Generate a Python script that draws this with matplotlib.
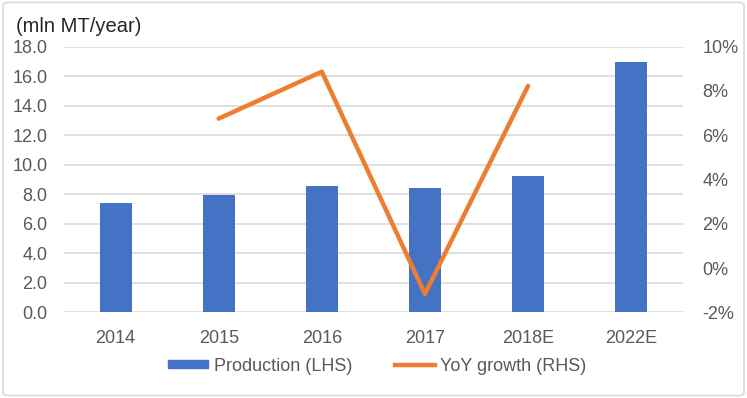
import matplotlib.pyplot as plt
from matplotlib.patches import Rectangle, FancyBboxPatch
from matplotlib.lines import Line2D

plt.rcParams["font.family"] = ["Liberation Sans", "DejaVu Sans"]

years = ["2014", "2015", "2016", "2017", "2018E", "2022E"]
production = [7.38, 7.93, 8.58, 8.44, 9.21, 16.98]
growth_years = ["2015", "2016", "2017", "2018E"]
growth = [6.75, 8.87, -1.17, 8.23]

blue = "#4472C4"
orange = "#ED7D31"
grey = "#595959"

fig = plt.figure(figsize=(7.47, 3.98), dpi=100)
fig.patches.append(FancyBboxPatch((0.004, 0.006), 0.992, 0.988,
                                  boxstyle="round,pad=0,rounding_size=0.008",
                                  transform=fig.transFigure, fill=False,
                                  edgecolor="#d9d9d9", linewidth=1.2))

ax = fig.add_axes([0.0857, 0.2153, 0.8283, 0.6674])
x = list(range(len(years)))
ax.bar(x, production, width=0.31, color=blue, zorder=2)
ax.set_ylim(0, 18)
ax.set_yticks([i * 2 for i in range(10)])
ax.set_yticklabels([f"{i * 2:.1f}" for i in range(10)])
ax.set_xlim(-0.5, len(years) - 0.5)
ax.set_xticks(x)
ax.set_xticklabels(years)
ax.grid(axis="y", color="#d9d9d9", linewidth=1.2, zorder=0)
ax.set_axisbelow(True)
for s in ax.spines.values():
    s.set_visible(False)
ax.tick_params(length=0, labelsize=13, labelcolor=grey)
ax.tick_params(axis="x", pad=13)
ax.tick_params(axis="y", pad=12)

ax2 = ax.twinx()
gx = [years.index(y) for y in growth_years]
ax2.plot(gx, growth, color=orange, linewidth=3.2, solid_capstyle="round", zorder=3)
ax2.set_ylim(-2, 10)
ax2.set_yticks(range(-2, 11, 2))
ax2.set_yticklabels([f"{v}%" for v in range(-2, 11, 2)])
for s in ax2.spines.values():
    s.set_visible(False)
ax2.tick_params(length=0, labelsize=13, labelcolor=grey, pad=14)

fig.text(0.021, 0.934, "(mln MT/year)", fontsize=14.5, color="#262626", va="center")

handles = [Rectangle((0, 0), 1, 1, color=blue),
           Line2D([0], [0], color=orange, linewidth=3.2)]
fig.legend(handles, ["Production (LHS)", "YoY growth (RHS)"],
           loc="center", bbox_to_anchor=(0.5054, 0.08), ncol=2, frameon=False,
           fontsize=13, labelcolor=grey, handlelength=2.2, handleheight=0.35,
           columnspacing=2.4, handletextpad=0.3)

fig.savefig("out.png", dpi=100)
